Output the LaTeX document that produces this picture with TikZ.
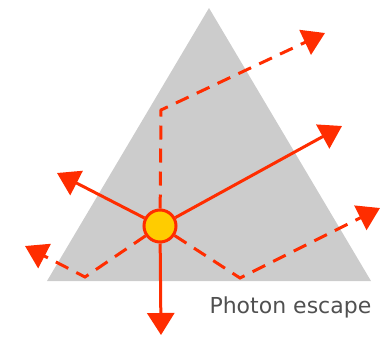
\documentclass[tikz,border=0pt]{standalone}
\usepackage{fontspec}
\setmainfont{DejaVu Sans}
\usetikzlibrary{arrows.meta, positioning, calc}
\definecolor{myred}{RGB}{255,45,0}
\definecolor{myyellow}{RGB}{255,204,0}
\definecolor{mygrey}{RGB}{204,204,204}
\definecolor{mytext}{RGB}{80,80,80}
\tikzset{
  source/.style={circle, draw=myred, fill=myyellow, line width=3pt,
    minimum size=32pt, inner sep=0pt},
  photon/.style={-{Triangle[length=22pt,width=27pt]}, line width=3pt, color=myred},
  scattered/.style={photon, dash pattern=on 14pt off 9pt},
  captext/.style={font=\fontsize{22}{26}\selectfont, color=mytext, anchor=base west}
}
\begin{document}
\begin{tikzpicture}[x=1pt, y=-1pt]
  \useasboundingbox (0,0) rectangle (386,338);
  % Medium
  \fill[mygrey] (209,8) -- (371,281) -- (47,281) -- cycle;
  % Emission point
  \node[source] (src) at (160,226) {};
  % Photon end points
  \coordinate (tipUL) at (57,173);
  \coordinate (tipUR) at (342,126);
  \coordinate (tipD) at (161,335);
  \coordinate (bendU) at (161,110);
  \coordinate (tipU) at (325,33);
  \coordinate (bendL) at (85,277);
  \coordinate (tipL) at (25,246);
  \coordinate (bendR) at (240,278);
  \coordinate (tipR) at (380,208);
  % Direct escapes
  \draw[photon] (src) -- (tipUL);
  \draw[photon] (src) -- (tipUR);
  \draw[photon] (src) -- (tipD);
  % Scattered paths
  \draw[scattered] (src) -- (bendU) -- (tipU);
  \draw[scattered] (src) -- (bendL) -- (tipL);
  \draw[scattered] (src) -- (bendR) -- (tipR);
  % Caption
  \node[captext] (cap) at (206,313) {Photon escape};
\end{tikzpicture}
\end{document}
